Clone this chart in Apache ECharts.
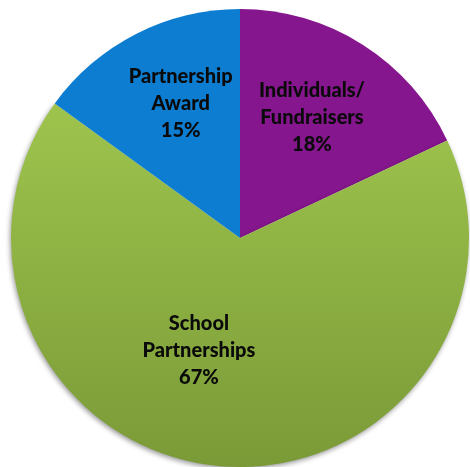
<!DOCTYPE html>
<html>
<head>
<meta charset="utf-8">
<script src="https://cdn.jsdelivr.net/npm/echarts@6/dist/echarts.min.js"></script>
<style>
html,body{margin:0;padding:0;background:#fff;}
#chart{width:470px;height:467px;}
</style>
</head>
<body>
<div id="chart"></div>
<script>
var categories = ['Individuals/\nFundraisers', 'School\nPartnerships', 'Partnership\nAward'];
var values = [18, 67, 15];

var colors = [
  '#86168E',
  new echarts.graphic.LinearGradient(0, 0, 0, 1, [
    {offset: 0, color: '#9EC44D'},
    {offset: 1, color: '#7A9A37'}
  ]),
  '#0D7DD1'
];
var labelShift = [[9, -21], [-30, -4], [-6, -30]];

var chart = echarts.init(document.getElementById('chart'), null, {renderer: 'canvas'});
chart.setOption({
  animation: false,
  series: [{
    type: 'pie',
    center: [240, 238],
    radius: 229,
    startAngle: 90,
    clockwise: true,
    data: categories.map(function (c, i) {
      var item = {name: c, value: values[i], itemStyle: {color: colors[i]}};
      if (i === 1) {
        item.itemStyle.shadowColor = 'rgba(0,0,0,0.4)';
        item.itemStyle.shadowBlur = 5;
        item.itemStyle.shadowOffsetX = -1;
        item.itemStyle.shadowOffsetY = 2;
      }
      return item;
    }),
    itemStyle: {borderWidth: 0},
    label: {
      show: true,
      position: 'inside',
      formatter: '{b}\n{d}%',
      color: '#0a0a0a',
      fontFamily: 'Lato',
      fontWeight: 900,
      fontSize: 20,
      lineHeight: 27,
      align: 'center'
    },
    labelLine: {show: false},
    labelLayout: function (p) {
      var s = labelShift[p.dataIndex];
      return {dx: s[0], dy: s[1]};
    },
    emphasis: {disabled: true}
  }]
});
</script>
</body>
</html>
